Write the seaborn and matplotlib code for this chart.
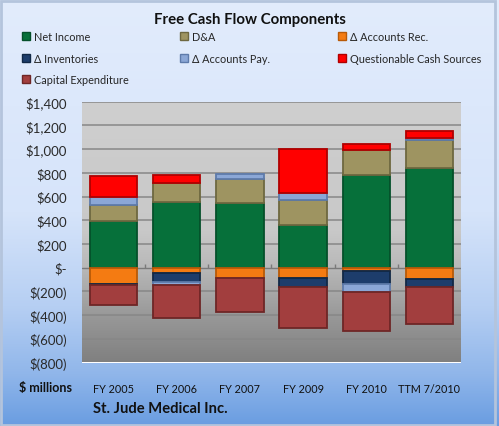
import numpy as np
import pandas as pd
import matplotlib
matplotlib.use("Agg")
import matplotlib.pyplot as plt
import seaborn as sns
from matplotlib.colors import LinearSegmentedColormap
from matplotlib.patches import Patch, Rectangle

# data ($ millions)
years = ["FY 2005", "FY 2006", "FY 2007", "FY 2009", "FY 2010", "TTM 7/2010"]
net_income = [391, 551, 545, 357, 778, 844]
d_and_a = [140, 165, 199, 211, 216, 230]
accounts_rec = [-134, -47, -83, -83, -30, -98]
inventories = [-16, -76, 0, -76, -104, -61]
accounts_pay = [62, -25, 48, 64, -70, 20]
questionable = [180, 68, 0, 371, 51, 57]
capex = [-166, -275, -289, -348, -328, -314]

series_names = ["Net Income", "D&A", "Δ Accounts Rec.", "Δ Inventories",
                "Δ Accounts Pay.", "Questionable Cash Sources", "Capital Expenditure"]
series_vals = [net_income, d_and_a, accounts_rec, inventories,
               accounts_pay, questionable, capex]
colors = ["#06703A", "#9E9461", "#F47B12", "#1D3D6B", "#8BA7D6", "#FF0000", "#A23E3E"]
edges = ["#04502A", "#6E6840", "#B85A08", "#112846", "#5E7BAA", "#B00000", "#6E2626"]

y_ticks = [1400, 1200, 1000, 800, 600, 400, 200, 0, -200, -400, -600, -800]
y_labels = ["$1,400", "$1,200", "$1,000", "$800", "$600", "$400", "$200", "$-",
            "$(200)", "$(400)", "$(600)", "$(800)"]

sns.set_style("white")
plt.rcParams['font.family'] = ['Lato', 'DejaVu Sans']

W, H = 499, 427
fig = plt.figure(figsize=(W / 100, H / 100), dpi=100)

# figure background gradient
bg = fig.add_axes([0, 0, 1, 1], zorder=-5)
bg_cmap = LinearSegmentedColormap.from_list(
    "bg", [(0, "#e2ecfc"), (0.5, "#d6e4fa"), (0.72, "#b6cff3"), (0.88, "#90b6ea"), (1, "#6a9de1")])
bg.imshow(np.linspace(0, 1, 256).reshape(-1, 1), aspect="auto", cmap=bg_cmap,
          extent=[0, 1, 0, 1], origin="upper")
bg.set_axis_off()

ax = fig.add_axes([82 / W, 1 - 363.5 / H, (461 - 82) / W, (363.5 - 102.7) / H])
plot_cmap = LinearSegmentedColormap.from_list(
    "pl", [(0, "#cfcfcf"), (0.5, "#c8c8c8"), (0.64, "#b8b8b8"), (0.82, "#999999"), (1, "#808080")])
ax.imshow(np.linspace(0, 1, 256).reshape(-1, 1), aspect="auto", cmap=plot_cmap,
          extent=[-0.5, 5.5, -800, 1400], origin="upper", zorder=0)

for t in y_ticks:
    if t not in (0, -800):
        ax.axhline(t, color="#878787", lw=1.1, zorder=1)

# stacked bars: positives upward, negatives downward
pos_base = np.zeros(len(years))
neg_base = np.zeros(len(years))
for name, vals, c, e in zip(series_names, series_vals, colors, edges):
    vals = np.array(vals, dtype=float)
    bottom = np.where(vals >= 0, pos_base, neg_base)
    keep = vals != 0
    df = pd.DataFrame({"year": np.array(years)[keep], "value": vals[keep]})
    sns.barplot(data=df, x="year", y="value", order=years, bottom=bottom[keep],
                color=c, edgecolor=e, linewidth=1.3, width=0.75, saturation=1,
                errorbar=None, ax=ax, zorder=3)
    pos_base = pos_base + np.where(vals > 0, vals, 0)
    neg_base = neg_base + np.where(vals < 0, vals, 0)

ax.axhline(0, color="#7a7a7a", lw=1, zorder=2)
ax.vlines(np.arange(0.5, 5.5, 1.0), 0, 30, color="#7a7a7a", lw=1, zorder=2)

ax.set_xlim(-0.5, 5.5)
ax.set_ylim(-800, 1400)
ax.set_yticks(y_ticks)
ax.set_yticklabels(y_labels)
ax.set_xlabel("")
ax.set_ylabel("")
ax.tick_params(axis="y", length=0, pad=11, labelsize=9.5, labelcolor="#2a2a2a")
ax.tick_params(axis="x", length=0, pad=15, labelsize=7.8, labelcolor="#111111")
for s in ax.spines.values():
    s.set_visible(False)

fig.text(0.5, 1 - 20 / H, "Free Cash Flow Components", ha="center", va="center",
         fontsize=10.8, fontweight="bold", color="#111111")

# legend in three columns, filled row by row
cols = [[0, 3, 6], [1, 4], [2, 5]]
col_x = [22, 180, 338]
for idx, x0 in zip(cols, col_x):
    handles = [Patch(facecolor=colors[i], edgecolor=edges[i], lw=1) for i in idx]
    fig.legend(handles, [series_names[i] for i in idx], loc="upper left",
               bbox_to_anchor=(x0 / W, 1 - 32 / H), frameon=False, borderpad=0,
               fontsize=7.8, handlelength=0.75, handleheight=0.75, handletextpad=0.4,
               labelspacing=0.98, borderaxespad=0)

fig.text(72 / W, 1 - 388 / H, "$ millions", ha="right", va="center",
         fontsize=9, fontweight="bold", color="#111111")
fig.text(93 / W, 1 - 409 / H, "St. Jude Medical Inc.", ha="left", va="center",
         fontsize=10.6, fontweight="bold", color="#111111")

fig.patches.append(Rectangle((0.003, 0.003), 0.988, 0.993, transform=fig.transFigure,
                             fill=False, edgecolor="#b4c4dc", lw=2))

fig.savefig("out.png", dpi=100)
